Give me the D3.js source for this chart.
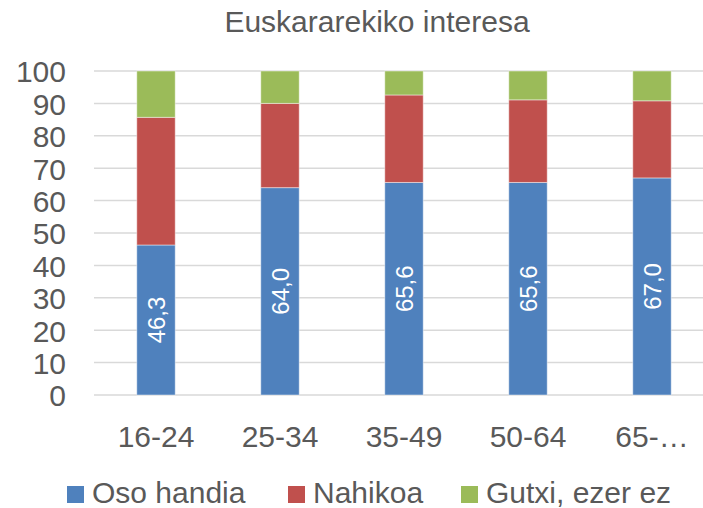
<!DOCTYPE html>
<html><head><meta charset="utf-8">
<script src="https://cdn.jsdelivr.net/npm/d3@7"></script>
<style>
html,body{margin:0;padding:0;background:#fff;}
svg{display:block;font-family:Arial,"Liberation Sans",sans-serif;}
</style></head>
<body>
<svg id="chart" width="703" height="508"></svg>
<script>
const categories = ["16-24", "25-34", "35-49", "50-64", "65-…"];
const osoHandia = [46.3, 64.0, 65.6, 65.6, 67.0];
const nahikoa   = [39.4, 26.0, 27.0, 25.5, 23.8];
const gutxi     = [14.3, 10.0, 7.4, 8.9, 9.2];
const seriesNames = ["Oso handia", "Nahikoa", "Gutxi, ezer ez"];
const colors = ["#4f81bd", "#c0504d", "#9bbb59"];
const yTicks = [0,10,20,30,40,50,60,70,80,90,100];
const title = "Euskararekiko interesa";

(function(){
const svg = d3.select("#chart");
const pLeft = 94, pRight = 714, pTop = 71, pBottom = 395;

const x = d3.scaleBand().domain(categories).range([pLeft, pRight]).paddingInner(0.69).paddingOuter(0.345);
const y = d3.scaleLinear().domain([0, 100]).range([pBottom, pTop]);

// gridlines
svg.append("g").selectAll("line").data(yTicks).join("line")
  .attr("x1", pLeft).attr("x2", pRight)
  .attr("y1", d => y(d)).attr("y2", d => y(d))
  .attr("stroke", "#d9d9d9").attr("stroke-width", 1.5);

// y axis labels
const yAxis = d3.axisLeft(y).tickValues(yTicks).tickSize(0).tickPadding(0).tickFormat(d3.format("d"));
const ya = svg.append("g").attr("transform", "translate(66,0)").call(yAxis);
ya.select(".domain").remove();
ya.selectAll("text").attr("font-size", 30).attr("fill", "#595959")
  .attr("font-family", "Arial, 'Liberation Sans', sans-serif").attr("dy", "0.36em");

// x axis labels
const xAxis = d3.axisBottom(x).tickSize(0).tickPadding(0);
const xa = svg.append("g").attr("transform", `translate(0,${pBottom})`).call(xAxis);
xa.select(".domain").remove();
xa.selectAll("text").attr("font-size", 30).attr("fill", "#595959")
  .attr("font-family", "Arial, 'Liberation Sans', sans-serif").attr("y", 52).attr("dy", 0);

// stacked data
const rows = categories.map((c, i) => ({cat: c, s0: osoHandia[i], s1: nahikoa[i], s2: gutxi[i]}));
const stack = d3.stack().keys(["s0", "s1", "s2"])(rows);

svg.append("g").selectAll("g").data(stack).join("g")
  .attr("fill", (d, i) => colors[i])
  .selectAll("rect").data(d => d).join("rect")
  .attr("x", d => x(d.data.cat))
  .attr("width", x.bandwidth())
  .attr("y", d => y(d[1]))
  .attr("height", d => y(d[0]) - y(d[1]))
  .attr("stroke", "rgba(255,255,255,0.45)").attr("stroke-width", 1);

// data labels (first series)
const fmt = v => v.toFixed(1).replace(".", ",");
svg.append("g").selectAll("text").data(stack[0]).join("text")
  .attr("transform", d => `translate(${x(d.data.cat) + x.bandwidth()/2},${(y(d[0]) + y(d[1]))/2}) rotate(-90)`)
  .attr("text-anchor", "middle").attr("dy", "0.36em")
  .attr("font-size", 24).attr("fill", "#ffffff")
  .text(d => fmt(d.data.s0));

// title
svg.append("text").attr("x", 377).attr("y", 32).attr("text-anchor", "middle")
  .attr("font-size", 30).attr("fill", "#595959").text(title);

// legend
const legendX = [67, 288, 461];
const lg = svg.append("g").selectAll("g").data(seriesNames).join("g")
  .attr("transform", (d, i) => `translate(${legendX[i]},0)`);
lg.append("rect").attr("x", 0).attr("y", 486).attr("width", 17).attr("height", 17)
  .attr("fill", (d, i) => colors[i]);
lg.append("text").attr("x", 25).attr("y", 503).attr("font-size", 30).attr("fill", "#595959").text(d => d);
})();
</script>
</body></html>
